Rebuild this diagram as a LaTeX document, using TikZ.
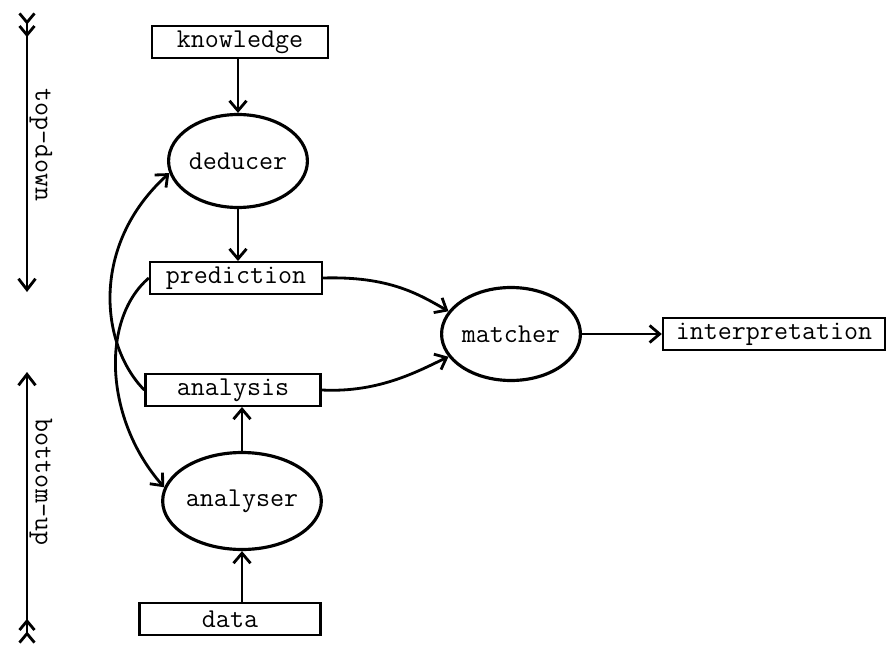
\documentclass[tikz,border=0pt]{standalone}
\usepackage{tikz}
\usetikzlibrary{arrows.meta}
\usetikzlibrary{shapes.geometric}

\begin{document}
\begin{tikzpicture}[x=0.02cm, y=-0.02cm,
    every node/.style={font=\ttfamily\fontsize{15.5}{18}\selectfont},
    box/.style={draw, line width=1.4pt, minimum height=0.63cm, inner sep=2pt},
    proc/.style={draw, ellipse, line width=1.8pt, inner sep=0pt},
    flow/.style={-{Straight Barb[length=2mm,width=3.4mm]}, line width=1.6pt}]

\useasboundingbox (0,0) rectangle (891,645);

% ===================== LEFT: DIRECTION ARROWS =====================
\coordinate (tdtop) at (27,12);
\coordinate (tdbot) at (27,292);
\coordinate (butop) at (27,372);
\coordinate (bubot) at (27,644);

\draw[line width=1.6pt,
      {Straight Barb[reversed,length=1.8mm,width=3mm]Straight Barb[reversed,length=1.8mm,width=3mm]}-{Straight Barb[length=2.2mm,width=3.4mm]}]
    (tdtop) -- (tdbot);
\draw[line width=1.6pt,
      {Straight Barb[reversed,length=1.8mm,width=3mm]Straight Barb[reversed,length=1.8mm,width=3mm]}-{Straight Barb[length=2.2mm,width=3.4mm]}]
    (bubot) -- (butop);

\node[rotate=-90] (tdlab) at (41,145) {top-down};
\node[rotate=-90] (bulab) at (41,482) {bottom-up};

% ===================== MIDDLE: DEDUCER / ANALYSER =====================
\node[box, minimum width=3.52cm] (know) at (240,42) {knowledge};
\node[proc, minimum width=2.68cm, minimum height=1.86cm] (ded) at (238,161) {deducer};
\node[box, minimum width=3.44cm] (pred) at (236,278) {prediction};
\node[box, minimum width=3.5cm] (anls) at (233,390) {analysis};
\node[proc, minimum width=2.7cm, minimum height=1.94cm] (anlr) at (242,501) {analyser};
\node[box, minimum width=3.62cm] (data) at (230,619) {data};

\draw[flow] (ded.north |- know.south) -- (ded.north);
\draw[flow] (ded.south) -- (ded.south |- pred.north);
\draw[flow] (anlr.south |- data.north) -- (anlr.south);
\draw[flow] (anlr.north) -- (anlr.north |- anls.south);

% crossing feedback curves
\draw[flow] (pred.west) .. controls (100,320) and (105,420) .. (anlr.170);
\draw[flow] (anls.west) .. controls (100,345) and (90,245) .. (ded.190);

% ===================== RIGHT: MATCHER =====================
\node[proc, minimum width=2.64cm, minimum height=1.86cm] (match) at (511,334) {matcher};
\node[box, minimum width=4.44cm] (interp) at (774,334) {interpretation};

\draw[flow] (pred.east) .. controls (390,276) and (420,295) .. (match.160);
\draw[flow] (anls.east) .. controls (380,393) and (420,370) .. (match.200);
\draw[flow] (match) -- (interp);

\end{tikzpicture}
\end{document}
